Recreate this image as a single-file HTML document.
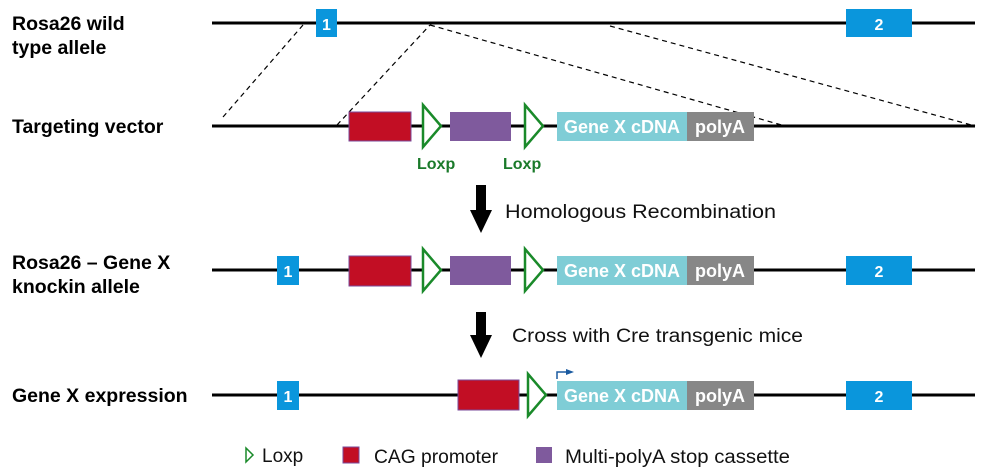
<!DOCTYPE html>
<html><head><meta charset="utf-8"><style>
html,body{margin:0;padding:0;background:#fff;}
svg{display:block;font-family:"Liberation Sans",Arial,sans-serif;}
.lbl{font-weight:bold;font-size:19.5px;fill:#000;}
.ex{font-weight:bold;font-size:16px;fill:#fff;}
.gx{font-weight:bold;font-size:18px;fill:#fff;}
.lx{font-weight:bold;font-size:16px;fill:#1a7a2a;}
.t{font-size:19px;fill:#111;}
</style></head><body>
<svg width="993" height="474" viewBox="0 0 993 474">
<defs>
<g id="lox"><polygon points="0,-21 18,0 0,21" fill="#fff" stroke="#1a8a2a" stroke-width="2.5"/></g>
</defs>
<text class="lbl" x="12" y="30">Rosa26 wild</text>
<text class="lbl" x="12" y="54">type allele</text>
<text class="lbl" x="12" y="133">Targeting vector</text>
<text class="lbl" x="12" y="269">Rosa26 – Gene X</text>
<text class="lbl" x="12" y="293">knockin allele</text>
<text class="lbl" x="12" y="402">Gene X expression</text>

<line x1="212" y1="23" x2="975" y2="23" stroke="#000" stroke-width="3"/>
<rect x="316" y="9" width="21" height="28" fill="#0a96dc"/><text class="ex" x="326.5" y="30" text-anchor="middle">1</text>
<rect x="846" y="9" width="66" height="28" fill="#0a96dc"/><text class="ex" x="879" y="30" text-anchor="middle">2</text>

<g stroke="#000" stroke-width="1.2" stroke-dasharray="5,4" fill="none">
<line x1="223" y1="117" x2="303" y2="25"/>
<line x1="337" y1="125" x2="430" y2="25"/>
<line x1="430" y1="25" x2="785" y2="126"/>
<line x1="610" y1="26" x2="975" y2="126"/>
</g>

<line x1="212" y1="126" x2="975" y2="126" stroke="#000" stroke-width="3"/>
<rect x="349" y="112" width="62" height="29" fill="#c20e24" stroke="#7a4a9a" stroke-width="1"/>
<use href="#lox" x="423" y="126"/>
<rect x="450" y="112" width="61" height="29" fill="#7f5a9d"/>
<use href="#lox" x="525" y="126"/>
<rect x="557" y="112" width="130" height="29" fill="#7fcdd6"/>
<rect x="687" y="112" width="67" height="29" fill="#878787"/>
<text class="gx" x="622" y="133" text-anchor="middle">Gene X cDNA</text>
<text class="gx" x="720" y="133" text-anchor="middle">polyA</text>
<text class="lx" x="417" y="169">Loxp</text>
<text class="lx" x="503" y="169">Loxp</text>

<rect x="476" y="185" width="10" height="27" fill="#000"/>
<polygon points="470,210 492,210 481,233" fill="#000"/>
<text class="t" x="505" y="218" textLength="271" lengthAdjust="spacingAndGlyphs">Homologous  Recombination</text>

<line x1="212" y1="270" x2="975" y2="270" stroke="#000" stroke-width="3"/>
<rect x="277" y="256" width="22" height="29" fill="#0a96dc"/><text class="ex" x="288" y="277" text-anchor="middle">1</text>
<rect x="349" y="256" width="62" height="30" fill="#c20e24" stroke="#7a4a9a" stroke-width="1"/>
<use href="#lox" x="423" y="270"/>
<rect x="450" y="256" width="61" height="29" fill="#7f5a9d"/>
<use href="#lox" x="525" y="270"/>
<rect x="557" y="256" width="130" height="29" fill="#7fcdd6"/>
<rect x="687" y="256" width="67" height="29" fill="#878787"/>
<text class="gx" x="622" y="277" text-anchor="middle">Gene X cDNA</text>
<text class="gx" x="720" y="277" text-anchor="middle">polyA</text>
<rect x="846" y="256" width="66" height="29" fill="#0a96dc"/><text class="ex" x="879" y="277" text-anchor="middle">2</text>

<rect x="476" y="312" width="10" height="25" fill="#000"/>
<polygon points="470,335 492,335 481,358" fill="#000"/>
<text class="t" x="512" y="342" textLength="291" lengthAdjust="spacingAndGlyphs">Cross with Cre transgenic mice</text>

<line x1="212" y1="395" x2="975" y2="395" stroke="#000" stroke-width="3"/>
<rect x="277" y="381" width="22" height="29" fill="#0a96dc"/><text class="ex" x="288" y="402" text-anchor="middle">1</text>
<rect x="458" y="380" width="61" height="30" fill="#c20e24" stroke="#7a4a9a" stroke-width="1"/>
<use href="#lox" x="528" y="395"/>
<rect x="557" y="381" width="130" height="29" fill="#7fcdd6"/>
<rect x="687" y="381" width="67" height="29" fill="#878787"/>
<text class="gx" x="622" y="402" text-anchor="middle">Gene X cDNA</text>
<text class="gx" x="720" y="402" text-anchor="middle">polyA</text>
<rect x="846" y="381" width="66" height="29" fill="#0a96dc"/><text class="ex" x="879" y="402" text-anchor="middle">2</text>
<polyline points="557,379 557,372 568,372" fill="none" stroke="#1a5aa0" stroke-width="1.5"/>
<polygon points="566,369 574,372 566,375" fill="#1a5aa0"/>

<polygon points="246,448 253,455 246,462" fill="#fff" stroke="#1a8a2a" stroke-width="1.5"/>
<text class="t" x="262" y="462">Loxp</text>
<rect x="343" y="447" width="16" height="16" fill="#c20e24" stroke="#7a4a9a" stroke-width="1"/>
<text class="t" x="374" y="463" textLength="124" lengthAdjust="spacingAndGlyphs">CAG promoter</text>
<rect x="536" y="447" width="16" height="16" fill="#7f5a9d"/>
<text class="t" x="565" y="463" textLength="225" lengthAdjust="spacingAndGlyphs">Multi-polyA stop cassette</text>
</svg>
</body></html>
